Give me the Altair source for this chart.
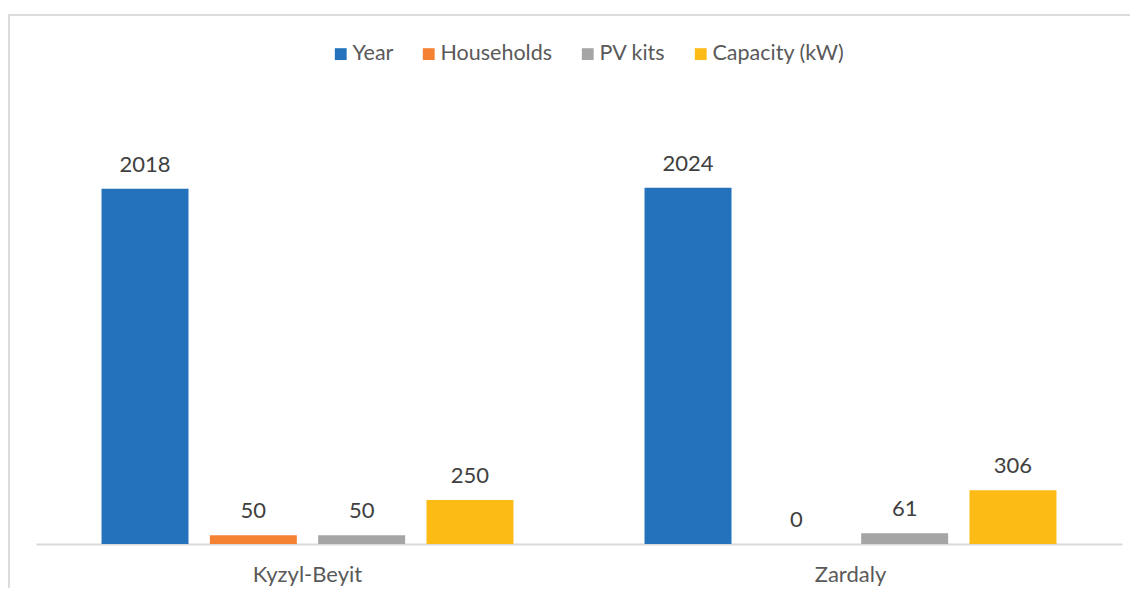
import altair as alt
import pandas as pd

groups = ["Kyzyl-Beyit", "Zardaly"]
series = ["Year", "Households", "PV kits", "Capacity (kW)"]
kyzyl_values = [2018, 50, 50, 250]
zardaly_values = [2024, 0, 61, 306]
colors = ["#2372bb", "#f58233", "#a5a5a5", "#fcbb15"]

rows = []
for g, vals in zip(groups, [kyzyl_values, zardaly_values]):
    for s, v in zip(series, vals):
        rows.append({"site": g, "series": s, "value": v})
df = pd.DataFrame(rows)

FONT = "Lato"
W, H = 1086, 440

x_enc = alt.X("site:N", sort=groups, title=None,
              scale=alt.Scale(paddingInner=0, paddingOuter=0),
              axis=alt.Axis(labelAngle=0, ticks=False, domainColor="#d9d9d9",
                            domainWidth=2, labelPadding=20, labelFontSize=22,
                            labelColor="#595959", labelFont=FONT))
xo_enc = alt.XOffset("series:N", sort=series,
                     scale=alt.Scale(paddingInner=0.197, paddingOuter=0.605))
y_enc = alt.Y("value:Q", axis=None,
              scale=alt.Scale(domain=[0, 2500], nice=False))

base = alt.Chart(df)

bars = base.mark_bar().encode(
    x=x_enc,
    xOffset=xo_enc,
    y=y_enc,
    color=alt.Color("series:N", sort=series,
                    scale=alt.Scale(domain=series, range=colors),
                    legend=alt.Legend(title=None, orient="none", legendX=294,
                                      legendY=-61, direction="horizontal",
                                      columns=4, symbolType="square",
                                      symbolSize=140, symbolStrokeWidth=0,
                                      labelOffset=1, columnPadding=24,
                                      labelFontSize=21.5, labelFont=FONT,
                                      labelColor="#595959")),
)

labels = base.mark_text(baseline="alphabetic", dy=-17, fontSize=22,
                        font=FONT, color="#404040").encode(
    x=x_enc,
    xOffset=xo_enc,
    y=y_enc,
    text=alt.Text("value:Q", format="d"),
)

one = alt.Data(values=[{}])
left_border = alt.Chart(one).mark_rule(color="#dcdcdc", strokeWidth=2).encode(
    x=alt.value(-27), y=alt.value(-89), y2=alt.value(500))
top_border = alt.Chart(one).mark_rule(color="#dcdcdc", strokeWidth=2).encode(
    x=alt.value(-28), x2=alt.value(1100), y=alt.value(-89))

chart = alt.layer(left_border, top_border, bars, labels).properties(
    width=W, height=H,
    autosize=alt.AutoSizeParams(type="none"),
    padding={"left": 28, "top": 96, "right": 8, "bottom": 44},
).configure_view(stroke=None)

chart.save("out.html", embed_options={"renderer": "svg", "actions": False})
